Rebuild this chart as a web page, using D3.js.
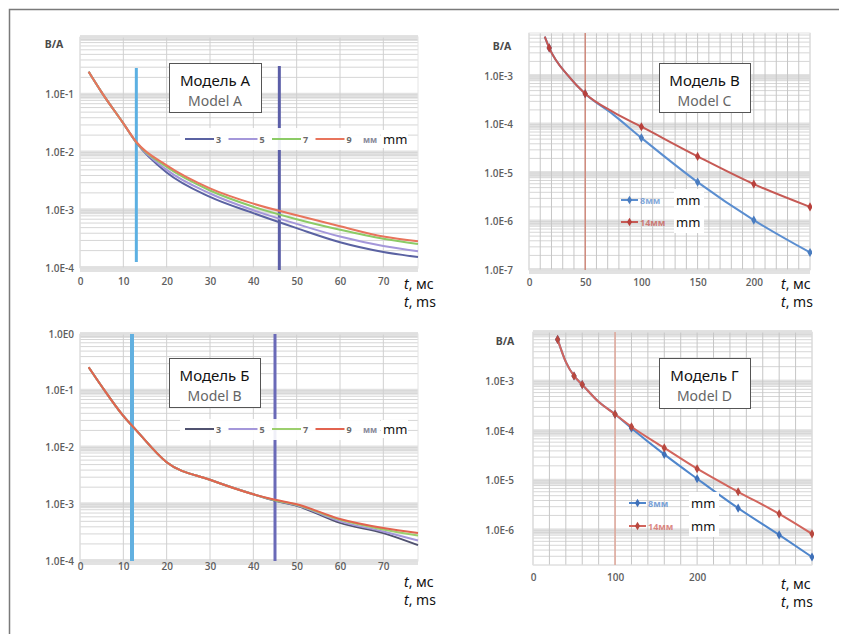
<!DOCTYPE html>
<html>
<head>
<meta charset="utf-8">
<script src="https://cdn.jsdelivr.net/npm/d3@7"></script>
<style>
  body { margin: 0; background: #fff; }
  svg { font-family: "Noto Sans", "Open Sans", sans-serif; }
</style>
</head>
<body>
<svg id="chart" width="842" height="634"></svg>
<script>
// ---- data ----
const seriesAB = ["3", "5", "7", "9"];

const timeA = [2, 5, 10, 13, 20, 30, 40, 50, 60, 70, 78];
const modelA_3 = [0.25, 0.11, 0.032, 0.0148, 4.5e-3, 1.7e-3, 8.9e-4, 4.9e-4, 2.8e-4, 1.9e-4, 1.55e-4];
const modelA_5 = [0.25, 0.11, 0.032, 0.0149, 5.0e-3, 1.95e-3, 1.0e-3, 5.8e-4, 3.5e-4, 2.4e-4, 1.95e-4];
const modelA_7 = [0.25, 0.11, 0.032, 0.0150, 5.6e-3, 2.2e-3, 1.15e-3, 7.0e-4, 4.6e-4, 3.2e-4, 2.6e-4];
const modelA_9 = [0.25, 0.11, 0.032, 0.0152, 6.0e-3, 2.4e-3, 1.3e-3, 8.2e-4, 5.3e-4, 3.5e-4, 2.9e-4];

const timeB = [2, 5, 10, 13, 20, 30, 40, 45, 50, 60, 70, 78];
const modelB_3 = [0.26, 0.12, 0.036, 0.020, 5.5e-3, 2.7e-3, 1.5e-3, 1.15e-3, 9.4e-4, 4.7e-4, 3.1e-4, 1.9e-4];
const modelB_5 = [0.26, 0.12, 0.036, 0.020, 5.5e-3, 2.7e-3, 1.5e-3, 1.17e-3, 9.6e-4, 5.0e-4, 3.3e-4, 2.3e-4];
const modelB_7 = [0.26, 0.12, 0.036, 0.020, 5.5e-3, 2.7e-3, 1.5e-3, 1.18e-3, 9.8e-4, 5.3e-4, 3.6e-4, 2.8e-4];
const modelB_9 = [0.26, 0.12, 0.036, 0.020, 5.5e-3, 2.7e-3, 1.5e-3, 1.2e-3, 1.0e-3, 5.5e-4, 3.8e-4, 3.1e-4];

const seriesCD = ["8", "14"];

const timeC = [14, 18, 35, 50, 75, 100, 150, 200, 250];
const modelC_8 = [6.5e-3, 3.8e-3, 1.0e-3, 4.3e-4, 1.6e-4, 5.3e-5, 6.5e-6, 1.07e-6, 2.3e-7];
const modelC_14 = [6.5e-3, 3.8e-3, 1.0e-3, 4.3e-4, 1.8e-4, 9.0e-5, 2.2e-5, 5.9e-6, 2.0e-6];
const markersC = [18, 50, 100, 150, 200, 250];

const timeD = [30, 40, 50, 60, 80, 100, 120, 160, 200, 250, 300, 340];
const modelD_8 = [7.1e-3, 2.5e-3, 1.3e-3, 8.7e-4, 3.9e-4, 2.2e-4, 1.15e-4, 3.4e-5, 1.1e-5, 2.8e-6, 8.1e-7, 2.9e-7];
const modelD_14 = [7.1e-3, 2.5e-3, 1.3e-3, 8.7e-4, 3.9e-4, 2.2e-4, 1.23e-4, 4.6e-5, 1.75e-5, 6.0e-6, 2.15e-6, 8.5e-7];
const markersD = [30, 50, 60, 100, 120, 160, 200, 250, 300, 340];

const xTicksAB = [0, 10, 20, 30, 40, 50, 60, 70];
const xTicksC = [0, 50, 100, 150, 200];
const xTicksD = [0, 100, 200];
const yTicksA = [1e-1, 1e-2, 1e-3, 1e-4];
const yTicksB = [1, 1e-1, 1e-2, 1e-3, 1e-4];
const yTicksC = [1e-3, 1e-4, 1e-5, 1e-6, 1e-7];
const yTicksD = [1e-3, 1e-4, 1e-5, 1e-6];

const titles = [["Модель А", "Model A"], ["Модель Б", "Model B"], ["Модель В", "Model C"], ["Модель Г", "Model D"]];

// ---- drawing ----
const svg = d3.select("#chart");

svg.append("path")
  .attr("d", "M9.5,634 V9.5 H839")
  .attr("fill", "none")
  .attr("stroke", "#7a7a7a")
  .attr("stroke-width", 1.5);

const zip = (ts, vs) => ts.map((t, i) => ({t: t, v: vs[i]}));
const expLabel = v => "1.0E" + Math.round(Math.log10(v));

function drawPanel(p, idx) {
  const x = d3.scaleLinear().domain(p.xDomain).range([p.left, p.right]);
  const y = d3.scaleLog().domain(p.yDomain).range([p.bottom, p.top]);
  const g = svg.append("g");

  g.append("rect")
    .attr("x", p.left).attr("y", p.top)
    .attr("width", p.right - p.left).attr("height", p.bottom - p.top)
    .attr("fill", "#fff");

  // horizontal log grid
  const hTicks = y.ticks().filter(v => v >= p.yDomain[0] && v <= p.yDomain[1] * 1.0001);
  const decades = hTicks.filter(v => Math.abs(Math.log10(v) - Math.round(Math.log10(v))) < 1e-6);
  g.selectAll(".band").data(decades).join("rect")
    .attr("x", p.left).attr("width", p.right - p.left)
    .attr("y", d => y(d) - 2).attr("height", 6)
    .attr("fill", "#e2e2e2");
  g.selectAll(".hgrid").data(hTicks).join("line")
    .attr("x1", p.left).attr("x2", p.right)
    .attr("y1", d => y(d)).attr("y2", d => y(d))
    .attr("stroke", "#d6d6d6").attr("stroke-width", 1);

  // vertical grid
  const vTicks = d3.range(p.xDomain[0], p.xDomain[1] + 0.001, p.xGrid);
  g.selectAll(".vgrid").data(vTicks).join("line")
    .attr("x1", d => x(d)).attr("x2", d => x(d))
    .attr("y1", p.top).attr("y2", p.bottom)
    .attr("stroke", p.vColor).attr("stroke-width", 1);

  g.append("rect")
    .attr("x", p.left).attr("y", p.top)
    .attr("width", p.right - p.left).attr("height", p.bottom - p.top)
    .attr("fill", "none").attr("stroke", "#e4e4e4");

  // axes
  const ya = g.append("g").attr("transform", `translate(${p.left},0)`)
    .call(d3.axisLeft(y).tickValues(p.yTicks).tickFormat(expLabel).tickSize(0).tickPadding(p.yPad));
  ya.select(".domain").remove();
  const xa = g.append("g").attr("transform", `translate(0,${p.bottom})`)
    .call(d3.axisBottom(x).tickValues(p.xTicks).tickFormat(d3.format("d")).tickSize(0).tickPadding(p.xPad));
  xa.select(".domain").remove();
  g.selectAll(".tick text")
    .attr("fill", "#5e5e5e").attr("font-size", 10).attr("font-weight", 600)
    .attr("font-family", "'Open Sans', sans-serif");

  if (p.showBA) {
    g.append("text").attr("x", p.baX).attr("y", p.top + p.baDy)
      .attr("text-anchor", "middle").attr("font-size", 10.5).attr("font-weight", 700)
      .attr("fill", "#4a4a4a").text("B/A");
  }

  // vertical marker lines
  p.guides.forEach(gd => {
    g.append("line")
      .attr("x1", x(gd.t)).attr("x2", x(gd.t))
      .attr("y1", gd.y1 != null ? gd.y1 : p.top).attr("y2", gd.y2 != null ? gd.y2 : p.bottom)
      .attr("stroke", gd.color).attr("stroke-width", gd.w);
  });

  // legend background (sits behind curves for A/B)
  if (p.legendBg) {
    g.append("rect")
      .attr("x", p.legendBg[0]).attr("y", p.legendBg[1])
      .attr("width", p.legendBg[2]).attr("height", p.legendBg[3])
      .attr("fill", "#fff").attr("opacity", 0.9);
  }

  // curves
  const clipId = "clip" + idx;
  g.append("clipPath").attr("id", clipId).append("rect")
    .attr("x", p.left).attr("y", p.top - 2)
    .attr("width", p.right - p.left + 2).attr("height", p.bottom - p.top + 4);
  const line = d3.line().x(d => x(d.t)).y(d => y(d.v)).curve(d3.curveMonotoneX);
  const cg = g.append("g").attr("clip-path", `url(#${clipId})`);
  p.series.forEach(s => {
    const pts = zip(s.t, s.v);
    cg.append("path").datum(pts)
      .attr("fill", "none").attr("stroke", s.color)
      .attr("stroke-width", p.lineW).attr("stroke-linejoin", "round")
      .attr("d", line);
    if (s.markers) {
      cg.selectAll(null).data(pts.filter(d => s.markers.includes(d.t))).join("path")
        .attr("transform", d => `translate(${x(d.t)},${y(d.v)})`)
        .attr("d", d3.symbol(d3.symbolDiamond, 24))
        .attr("fill", s.mcolor);
    }
  });

  // title box
  const tb = p.titleBox;
  g.append("rect").attr("x", tb[0] + 0.5).attr("y", tb[1] + 0.5)
    .attr("width", tb[2]).attr("height", tb[3])
    .attr("fill", "#fff").attr("stroke", "#555").attr("stroke-width", 1);
  g.append("text").attr("x", tb[0] + tb[2] / 2).attr("y", tb[1] + 23)
    .attr("text-anchor", "middle").attr("font-size", 15).attr("fill", "#111")
    .text(titles[idx][0]);
  g.append("text").attr("x", tb[0] + tb[2] / 2).attr("y", tb[1] + 43)
    .attr("text-anchor", "middle").attr("font-size", 14).attr("fill", "#666")
    .text(titles[idx][1]);

  // legend
  const lg = g.append("g");
  if (p.legendType === "row") {
    p.series.forEach((s, i) => {
      const lx = p.legendX + i * 43.5;
      lg.append("line").attr("x1", lx).attr("x2", lx + 29)
        .attr("y1", p.legendY).attr("y2", p.legendY)
        .attr("stroke", s.color).attr("stroke-width", 2);
      lg.append("text").attr("x", lx + 31).attr("y", p.legendY + 3.5)
        .attr("font-size", 9).attr("font-weight", 700).attr("fill", "#6a6a6a")
        .text(s.name);
    });
    const ex = p.legendX + 4 * 43.5 + 4;
    lg.append("text").attr("x", ex).attr("y", p.legendY + 3.5)
      .attr("font-size", 8.5).attr("font-weight", 700).attr("fill", "#8a8a9a").text("мм");
    lg.append("rect").attr("x", ex + 18).attr("y", p.legendY - 9)
      .attr("width", 27).attr("height", 18).attr("fill", "#fff");
    lg.append("text").attr("x", ex + 20).attr("y", p.legendY + 4.5)
      .attr("font-size", 13).attr("fill", "#111").text("mm");
  } else {
    lg.append("rect").attr("x", p.legendX + p.mmOffset - 2).attr("y", p.legendY - 11)
      .attr("width", 30).attr("height", p.legendStep + 22).attr("fill", "#fff");
    p.series.forEach((s, i) => {
      const ly = p.legendY + i * p.legendStep;
      lg.append("line").attr("x1", p.legendX).attr("x2", p.legendX + 17)
        .attr("y1", ly).attr("y2", ly).attr("stroke", s.color).attr("stroke-width", 2);
      lg.append("path").attr("transform", `translate(${p.legendX + 8.5},${ly})`)
        .attr("d", d3.symbol(d3.symbolDiamond, 22)).attr("fill", s.mcolor);
      lg.append("text").attr("x", p.legendX + 19).attr("y", ly + 3.5)
        .attr("font-size", 9).attr("font-weight", 700).attr("fill", s.color)
        .attr("opacity", 0.75).text(s.name + "мм");
      lg.append("text").attr("x", p.legendX + p.mmOffset).attr("y", ly + 4.5)
        .attr("font-size", 13).attr("fill", "#111").text("mm");
    });
  }

  // axis caption
  const cap = g.append("text").attr("font-size", 14).attr("fill", "#111");
  cap.append("tspan").attr("x", p.capX).attr("y", p.capY).attr("font-style", "italic").text("t");
  cap.append("tspan").text(", мс");
  const cap2 = g.append("text").attr("font-size", 14).attr("fill", "#111");
  cap2.append("tspan").attr("x", p.capX).attr("y", p.capY + 18).attr("font-style", "italic").text("t");
  cap2.append("tspan").text(", ms");
}

const colorsA = ["#5a62a2", "#a497da", "#8ccb66", "#e8745c"];
const colorsB = ["#505270", "#a497da", "#9ccf6e", "#e2634f"];
const modelsA = [modelA_3, modelA_5, modelA_7, modelA_9];
const modelsB = [modelB_3, modelB_5, modelB_7, modelB_9];

const panels = [
  {
    xDomain: [0, 78], yDomain: [1e-4, 1], left: 80, right: 418, top: 37, bottom: 268,
    xGrid: 10, vColor: "#d0d0d0", xTicks: xTicksAB, yTicks: yTicksA, yPad: 6, xPad: 10,
    showBA: true, baX: 54, baDy: 11, lineW: 2,
    guides: [{t: 13, color: "#5cb0e2", w: 3, y1: 68, y2: 262}, {t: 46, color: "#5b5ea8", w: 3, y1: 66, y2: 270}],
    legendBg: [180, 128, 200, 22],
    series: seriesAB.map((n, i) => ({name: n, t: timeA, v: modelsA[i], color: colorsA[i]})),
    titleBox: [169, 63, 92, 49], legendType: "row", legendX: 185, legendY: 139,
    capX: 404, capY: 289
  },
  {
    xDomain: [0, 78], yDomain: [1e-4, 1], left: 80, right: 418, top: 334, bottom: 561,
    xGrid: 10, vColor: "#d0d0d0", xTicks: xTicksAB, yTicks: yTicksB, yPad: 6, xPad: 2,
    showBA: false, lineW: 2,
    guides: [{t: 12, color: "#62b0e0", w: 4}, {t: 45, color: "#6a6ab8", w: 3}],
    legendBg: [180, 419, 200, 21],
    series: seriesAB.map((n, i) => ({name: n, t: timeB, v: modelsB[i], color: colorsB[i]})),
    titleBox: [169, 358, 91, 49], legendType: "row", legendX: 185, legendY: 429,
    capX: 404, capY: 587
  },
  {
    xDomain: [0, 250], yDomain: [1e-7, 7.7e-3], left: 529, right: 810, top: 33, bottom: 270,
    xGrid: 10, vColor: "#c6c6c6", xTicks: xTicksC, yTicks: yTicksC, yPad: 16, xPad: 9,
    showBA: true, baX: 502, baDy: 17, lineW: 2,
    guides: [{t: 50, color: "#cf7f70", w: 1.3}],
    series: [
      {name: "8", t: timeC, v: modelC_8, color: "#5b8ed0", mcolor: "#4a7cbf", markers: markersC},
      {name: "14", t: timeC, v: modelC_14, color: "#c65a55", mcolor: "#b8403c", markers: markersC}
    ],
    titleBox: [659, 63, 91, 49], legendType: "col", legendX: 621, legendY: 200, legendStep: 22, mmOffset: 55,
    capX: 781, capY: 289
  },
  {
    xDomain: [0, 340], yDomain: [2e-7, 1e-2], left: 533, right: 812, top: 332, bottom: 565,
    xGrid: 20, vColor: "#c6c6c6", xTicks: xTicksD, yTicks: yTicksD, yPad: 19, xPad: 9,
    showBA: true, baX: 505, baDy: 13, lineW: 2,
    guides: [{t: 100, color: "#e2a091", w: 1.3}],
    series: [
      {name: "8", t: timeD, v: modelD_8, color: "#4f86cc", mcolor: "#3f70b8", markers: markersD},
      {name: "14", t: timeD, v: modelD_14, color: "#d2655d", mcolor: "#b8483f", markers: markersD}
    ],
    titleBox: [659, 358, 91, 50], legendType: "col", legendX: 629, legendY: 503, legendStep: 23, mmOffset: 62,
    capX: 781, capY: 589
  }
];

panels.forEach(drawPanel);
</script>
</body>
</html>
